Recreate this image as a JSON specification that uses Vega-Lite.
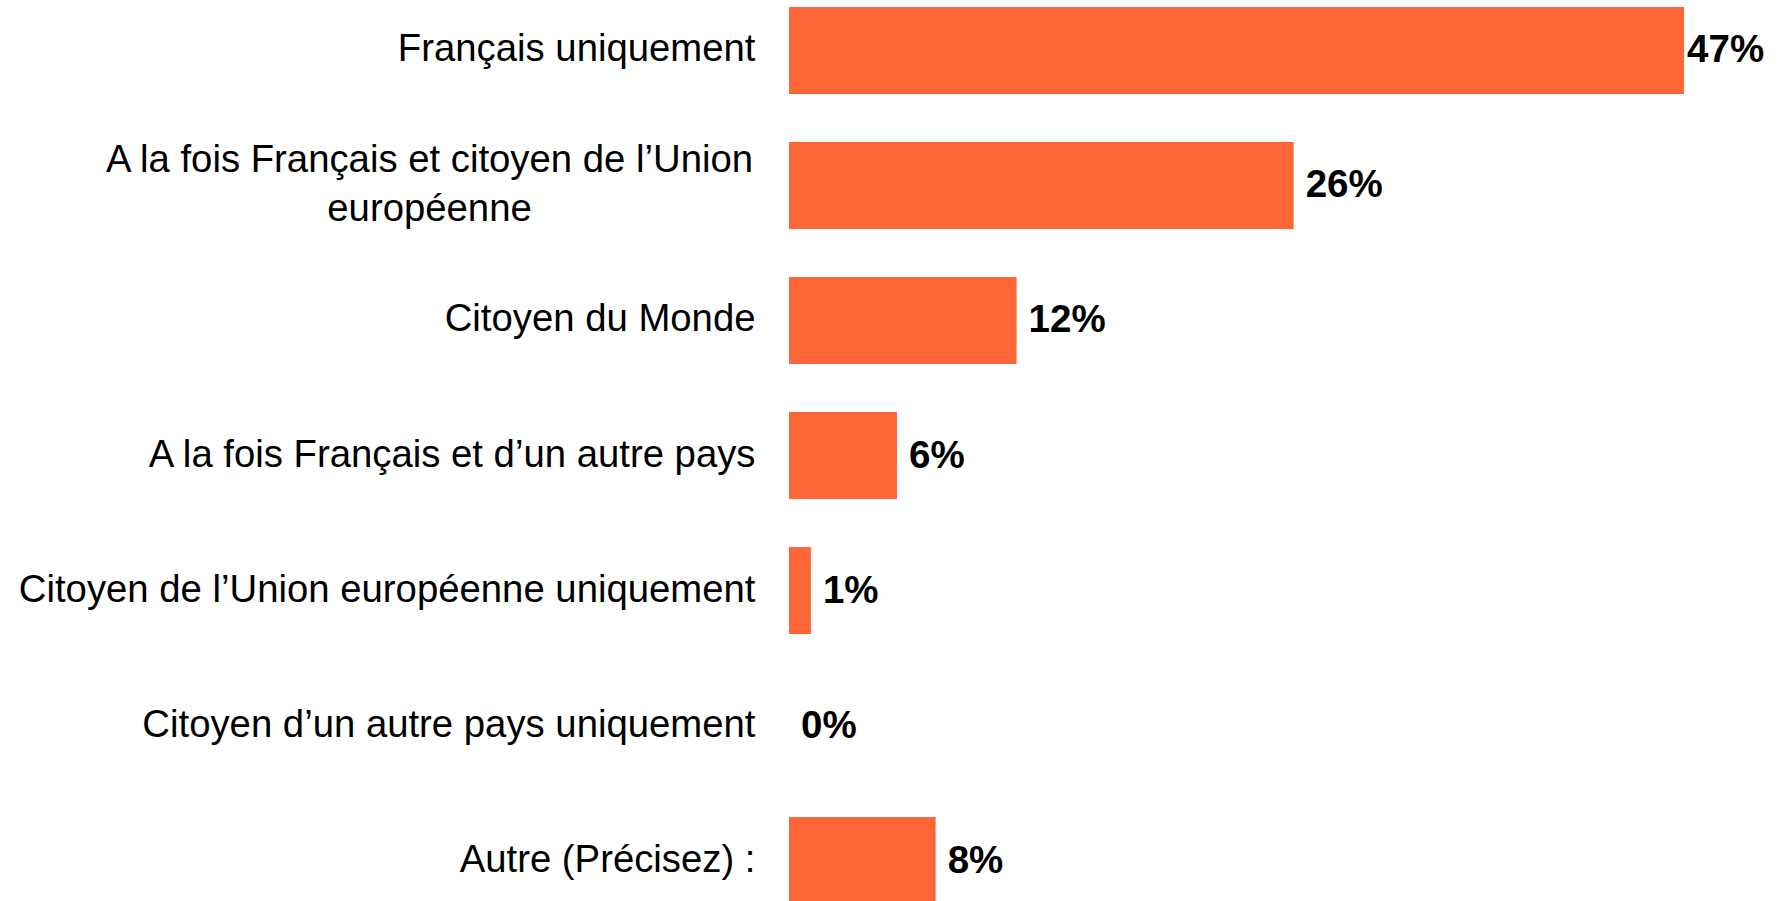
{
  "$schema": "https://vega.github.io/schema/vega-lite/v6.json",
  "width": 996,
  "height": 901,
  "autosize": {"type": "none"},
  "padding": {"left": 789, "top": 0, "right": 0, "bottom": 0},
  "background": "white",
  "config": {"view": {"stroke": null}},
  "data": {
    "values": [
      {"cat": "Français uniquement", "value": 47.0, "label": "47%"},
      {"cat": "A la fois Français et citoyen de l’Union européenne", "value": 26.5, "label": "26%"},
      {"cat": "Citoyen du Monde", "value": 11.95, "label": "12%"},
      {"cat": "A la fois Français et d’un autre pays", "value": 5.67, "label": "6%"},
      {"cat": "Citoyen de l’Union européenne uniquement", "value": 1.15, "label": "1%"},
      {"cat": "Citoyen d’un autre pays uniquement", "value": 0, "label": "0%"},
      {"cat": "Autre (Précisez) :", "value": 7.7, "label": "8%"}
    ]
  },
  "encoding": {
    "y": {
      "field": "cat",
      "type": "nominal",
      "sort": null,
      "scale": {"range": [0, 911], "paddingInner": 0.356, "paddingOuter": 0.052},
      "axis": {
        "title": null,
        "domain": false,
        "ticks": false,
        "labelFont": "Liberation Sans",
        "labelFontSize": 38.3,
        "labelColor": "#000000",
        "labelLimit": 0,
        "labelLineHeight": 49,
        "labelExpr": "datum.value == 'A la fois Français et citoyen de l’Union européenne' ? ['A la fois Français et citoyen de l’Union', 'européenne'] : datum.label",
        "labelAlign": {"condition": {"test": "datum.value == 'A la fois Français et citoyen de l’Union européenne'", "value": "center"}, "value": "right"},
        "labelPadding": {"condition": {"test": "datum.value == 'A la fois Français et citoyen de l’Union européenne'", "value": 360}, "value": 34},
        "labelOffset": {"condition": {"test": "datum.value == 'A la fois Français et citoyen de l’Union européenne'", "value": -24}, "value": 0}
      }
    },
    "x": {
      "field": "value",
      "type": "quantitative",
      "scale": {"domain": [0, 52.3], "nice": false},
      "axis": null
    }
  },
  "layer": [
    {"mark": {"type": "bar", "color": "#FF6637"}},
    {
      "mark": {
        "type": "text",
        "align": "left",
        "baseline": "middle",
        "font": "Liberation Sans",
        "fontWeight": "bold",
        "fontSize": 38.5,
        "color": "#000000",
        "dx": {"expr": "datum.value > 40 ? 3 : 12"}
      },
      "encoding": {"text": {"field": "label"}}
    }
  ]
}
